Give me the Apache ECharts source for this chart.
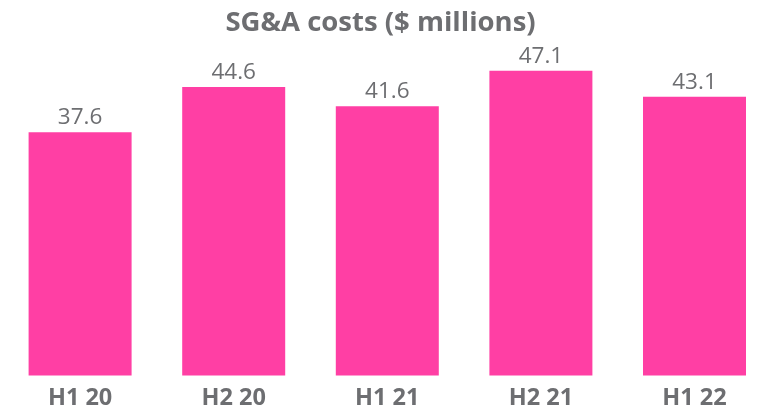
<!DOCTYPE html>
<html>
<head>
<meta charset="utf-8">
<script src="https://cdn.jsdelivr.net/npm/echarts@6/dist/echarts.min.js"></script>
<style>
html,body{margin:0;padding:0;background:#fff;}
#chart{width:761px;height:412px;}
</style>
</head>
<body>
<div id="chart"></div>
<script>
const categories = ['H1 20', 'H2 20', 'H1 21', 'H2 21', 'H1 22'];
const sgaCosts = [37.6, 44.6, 41.6, 47.1, 43.1];
const titleText = 'SG&A costs ($ millions)';

const FONT = '"Open Sans", Lato, sans-serif';
const chart = echarts.init(document.getElementById('chart'), null, {renderer: 'canvas'});
chart.setOption({
  animation: false,
  title: {
    text: titleText,
    left: 'center',
    top: 4,
    textStyle: {fontFamily: FONT, fontSize: 27.5, fontWeight: 'bold', color: '#6d6e71'}
  },
  grid: {left: 3.3, right: -10.3, top: 52, bottom: 36.5, containLabel: false, outerBoundsMode: 'none'},
  xAxis: {
    type: 'category',
    data: categories,
    axisLine: {show: false},
    axisTick: {show: false},
    axisLabel: {fontFamily: FONT, fontSize: 23.5, fontWeight: 'bold', color: '#6d6e71', margin: 11}
  },
  yAxis: {
    type: 'value', min: 0, max: 50, show: false,
    splitLine: {show: false}
  },
  series: [{
    type: 'bar',
    data: sgaCosts,
    barWidth: 103,
    itemStyle: {color: '#ff3fa4'},
    label: {
      show: true, position: 'top', distance: 3,
      fontFamily: FONT, fontSize: 22.5, color: '#6d6e71',
      formatter: p => p.value.toFixed(1)
    }
  }]
});
</script>
</body>
</html>
